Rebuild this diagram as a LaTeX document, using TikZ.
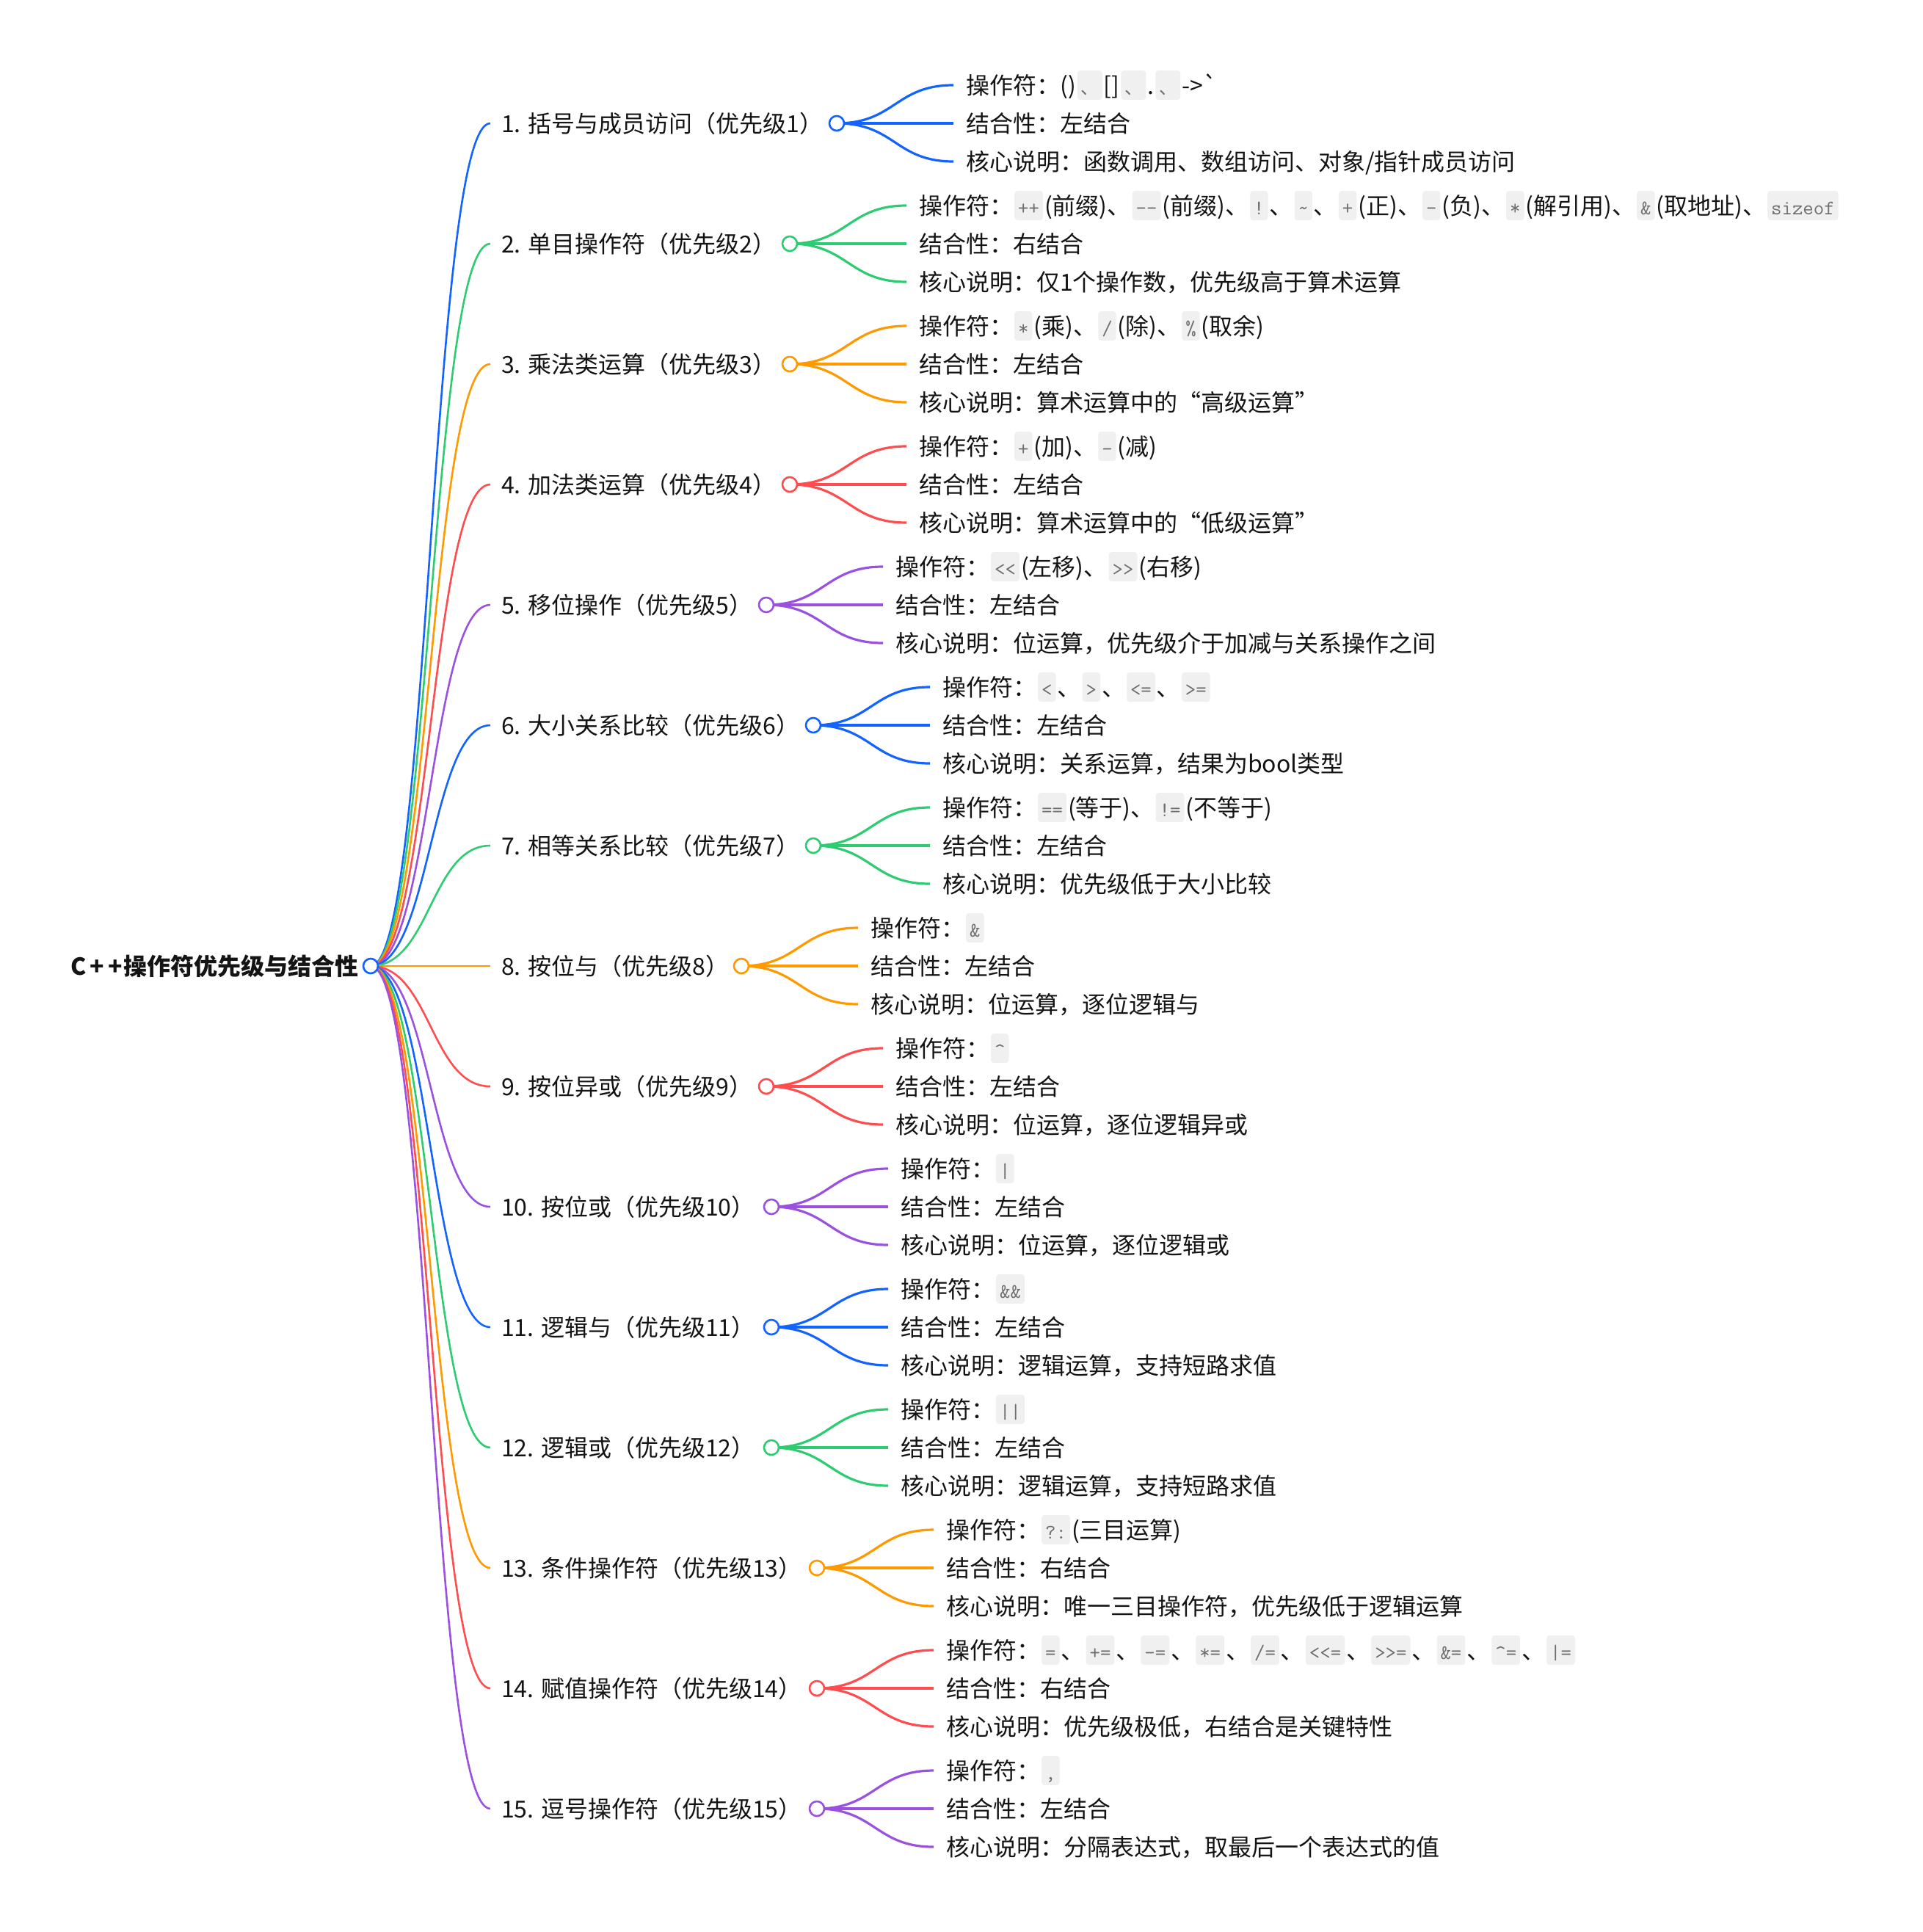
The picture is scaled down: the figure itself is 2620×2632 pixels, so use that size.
\documentclass[tikz,border=0pt]{standalone}
\usepackage{fontspec}
\setmainfont{Noto Sans CJK SC}[Ligatures=TeXOff]
\setmonofont{Latin Modern Mono}
\usetikzlibrary{calc}
\pgfdeclarelayer{bg}
\pgfsetlayers{bg,main}
\definecolor{cblue}{RGB}{18,99,255}
\definecolor{cgreen}{RGB}{46,204,113}
\definecolor{corange}{RGB}{255,153,0}
\definecolor{cred}{RGB}{255,77,79}
\definecolor{cpurple}{RGB}{155,81,224}
\definecolor{codebg}{RGB}{240,240,240}
\definecolor{codefg}{RGB}{110,110,110}
\definecolor{txt}{RGB}{20,20,20}
\tikzset{
  lvone/.style={anchor=west, inner xsep=15pt, inner ysep=0pt, text height=28pt, text depth=4pt, font=\fontsize{32}{38}\selectfont, text=txt},
  lvtwo/.style={anchor=west, inner xsep=17pt, inner ysep=0pt, text height=28pt, text depth=4pt, font=\fontsize{32}{38}\selectfont, text=txt},
  rootlbl/.style={anchor=east, inner sep=0pt, text height=28pt, text depth=4pt, font=\bfseries\fontsize{32}{38}\selectfont, text=txt},
  bulb/.style={circle, draw=#1, fill=white, line width=2.6pt, minimum size=20pt, inner sep=0pt},
  linkone/.style={draw=#1, line width=2.6pt},
  linktwo/.style={draw=#1, line width=3.2pt},
  codestyle/.style={fill=codebg, draw=none, rounded corners=4pt, inner xsep=5pt, inner ysep=6pt, text height=26pt, text depth=2pt, font=\ttfamily\fontsize{28}{28}\selectfont, text=codefg, anchor=base},
  codecjk/.style={codestyle, font=\fontsize{24}{28}\selectfont},
}
\newcommand\cd[1]{\hspace{2pt}\tikz[baseline=(cbx.base)]\node[codestyle](cbx){#1};\hspace{2pt}}
\newcommand\cdz[1]{\hspace{2pt}\tikz[baseline=(cbx.base)]\node[codecjk](cbx){#1};\hspace{2pt}}
\newcommand\branch[8]{%
  \node[lvone] (l#1) at (668,#2) {#5};
  \node[bulb=#3] (c#1) at (#4,#2) {};
  \node[lvtwo] (a#1) at ($(c#1.center)+(159,-52)$) {操作符：#6};
  \node[lvtwo] (b#1) at ($(c#1.center)+(159,0)$) {结合性：#7};
  \node[lvtwo] (d#1) at ($(c#1.center)+(159,52)$) {核心说明：#8};
  \begin{pgfonlayer}{bg}
    \draw[linkone=#3] (root.center) .. controls ($(root.center)+(81.5,0)$) and ($(l#1.west)+(-81.5,0)$) .. (l#1.west);
    \draw[linktwo=#3] (c#1.center) .. controls ($(c#1.center)+(79.5,0)$) and ($(a#1.west)+(-79.5,0)$) .. (a#1.west);
    \draw[linktwo=#3] (c#1.center) -- (b#1.west);
    \draw[linktwo=#3] (c#1.center) .. controls ($(c#1.center)+(79.5,0)$) and ($(d#1.west)+(-79.5,0)$) .. (d#1.west);
  \end{pgfonlayer}
}
\begin{document}
\begin{tikzpicture}[x=1pt,y=-1pt]
\useasboundingbox (0,0) rectangle (2620,2632);
\node[bulb=cblue] (root) at (505,1316) {};
\node[rootlbl] (rt) at (489,1316) {C\kern5pt+\kern5pt+\kern2pt操作符优先级与结合性};
\branch{1}{168}{cblue}{1140}{1. 括号与成员访问（优先级1）}{()\cdz{、}[]\cdz{、}.\cdz{、}->`}{左结合}{函数调用、数组访问、对象/指针成员访问}
\branch{2}{332}{cgreen}{1076}{2. 单目操作符（优先级2）}{\cd{++}(前缀)、\cd{-{}-}(前缀)、\cd{!}、\cd{\string~}、\cd{+}(正)、\cd{-}(负)、\cd{*}(解引用)、\cd{\&}(取地址)、\cd{sizeof}}{右结合}{仅1个操作数，优先级高于算术运算}
\branch{3}{496}{corange}{1076}{3. 乘法类运算（优先级3）}{\cd{*}(乘)、\cd{/}(除)、\cd{\%}(取余)}{左结合}{算术运算中的“高级运算”}
\branch{4}{660}{cred}{1076}{4. 加法类运算（优先级4）}{\cd{+}(加)、\cd{-}(减)}{左结合}{算术运算中的“低级运算”}
\branch{5}{824}{cpurple}{1044}{5. 移位操作（优先级5）}{\cd{<<}(左移)、\cd{>>}(右移)}{左结合}{位运算，优先级介于加减与关系操作之间}
\branch{6}{988}{cblue}{1108}{6. 大小关系比较（优先级6）}{\cd{<}、\cd{>}、\cd{<=}、\cd{>=}}{左结合}{关系运算，结果为bool类型}
\branch{7}{1152}{cgreen}{1108}{7. 相等关系比较（优先级7）}{\cd{==}(等于)、\cd{!=}(不等于)}{左结合}{优先级低于大小比较}
\branch{8}{1316}{corange}{1010}{8. 按位与（优先级8）}{\cd{\&}}{左结合}{位运算，逐位逻辑与}
\branch{9}{1480}{cred}{1044}{9. 按位异或（优先级9）}{\cd{\string^}}{左结合}{位运算，逐位逻辑异或}
\branch{10}{1644}{cpurple}{1051}{10. 按位或（优先级10）}{\cd{|}}{左结合}{位运算，逐位逻辑或}
\branch{11}{1808}{cblue}{1051}{11. 逻辑与（优先级11）}{\cd{\&\&}}{左结合}{逻辑运算，支持短路求值}
\branch{12}{1972}{cgreen}{1051}{12. 逻辑或（优先级12）}{\cd{||}}{左结合}{逻辑运算，支持短路求值}
\branch{13}{2136}{corange}{1113}{13. 条件操作符（优先级13）}{\cd{?:}(三目运算)}{右结合}{唯一三目操作符，优先级低于逻辑运算}
\branch{14}{2300}{cred}{1113}{14. 赋值操作符（优先级14）}{\cd{=}、\cd{+=}、\cd{-=}、\cd{*=}、\cd{/=}、\cd{<<=}、\cd{>>=}、\cd{\&=}、\cd{\string^=}、\cd{|=}}{右结合}{优先级极低，右结合是关键特性}
\branch{15}{2464}{cpurple}{1113}{15. 逗号操作符（优先级15）}{\cd{,}}{左结合}{分隔表达式，取最后一个表达式的值}
\end{tikzpicture}
\end{document}
